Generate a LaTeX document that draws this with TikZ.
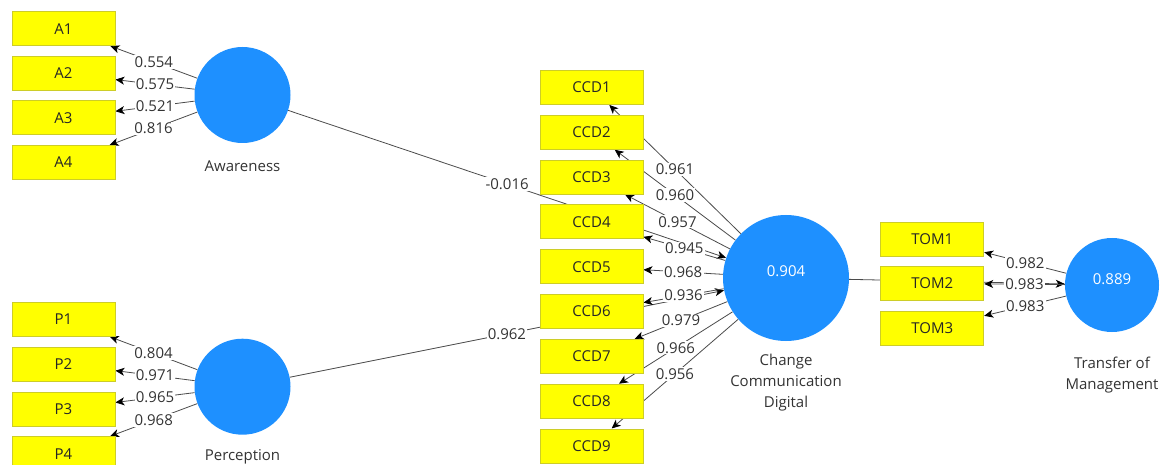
\documentclass[tikz,border=0pt]{standalone}
\usepackage{fontspec}
\setmainfont{Open Sans}
\usetikzlibrary{arrows.meta, backgrounds}

\definecolor{indyellow}{RGB}{255,255,0}
\definecolor{indborder}{RGB}{205,205,40}
\definecolor{latblue}{RGB}{30,144,255}
\definecolor{linegray}{RGB}{75,75,75}

\begin{document}
\begin{tikzpicture}[
		x=1pt, y=-1pt,
		indicator/.style={rectangle, draw=indborder, fill=indyellow, line width=0.8pt, minimum width=103pt, minimum height=34pt, inner sep=0pt, font=\fontsize{15}{18}\selectfont, text=black!85},
		latent/.style={circle, fill=latblue, minimum size=96pt, inner sep=0pt},
		latval/.style={font=\fontsize{15}{18}\selectfont, text=white},
		lvcaption/.style={font=\fontsize{15}{21}\selectfont, text=black!80, align=center},
		coef/.style={fill=white, inner sep=1.2pt, font=\fontsize{15}{18}\selectfont, text=black!80},
		loading/.style={draw=linegray, line width=0.8pt, -{Stealth[length=9pt, width=8pt, inset=2.5pt, color=black]}},
		structural/.style={loading}
		]
		
		\useasboundingbox (0,0) rectangle (1162,465);
		
		% Latent variables
		\node[latent] (aw) at (242.5,95) {};
		\node[latent] (pe) at (242.5,386.7) {};
		\node[latent, minimum size=126pt] (ccd) at (786,278) {};
		\node[latent, minimum size=94pt] (tom) at (1112,285) {};
		
		\node[latval] (ccdval) at (786,271) {0.904};
		\node[latval] (tomval) at (1112,279) {0.889};
		
		\node[lvcaption] (awname) at (242.5,166) {Awareness};
		\node[lvcaption] (pename) at (242.5,457) {Perception};
		\node[lvcaption] (ccdname) at (786,383) {Change\\Communication\\Digital};
		\node[lvcaption] (tomname) at (1112,375) {Transfer of\\Management};
		
		% Indicators of Awareness
		\node[indicator] (A1) at (63.5,28.7) {A1};
		\node[indicator] (A2) at (63.5,73.3) {A2};
		\node[indicator] (A3) at (63.5,117.9) {A3};
		\node[indicator] (A4) at (63.5,162.5) {A4};
		
		% Indicators of Perception
		\node[indicator] (P1) at (63.5,319.3) {P1};
		\node[indicator] (P2) at (63.5,364.1) {P2};
		\node[indicator] (P3) at (63.5,408.9) {P3};
		\node[indicator] (P4) at (63.5,453.7) {P4};
		
		% Indicators of Change Communication Digital
		\node[indicator] (CCD1) at (591.5,87.5) {CCD1};
		\node[indicator] (CCD2) at (591.5,132.3) {CCD2};
		\node[indicator] (CCD3) at (591.5,177.1) {CCD3};
		\node[indicator] (CCD4) at (591.5,221.9) {CCD4};
		\node[indicator] (CCD5) at (591.5,266.7) {CCD5};
		\node[indicator] (CCD6) at (591.5,311.5) {CCD6};
		\node[indicator] (CCD7) at (591.5,356.3) {CCD7};
		\node[indicator] (CCD8) at (591.5,401.1) {CCD8};
		\node[indicator] (CCD9) at (591.5,445.9) {CCD9};
		
		% Indicators of Transfer of Management
		\node[indicator] (TOM1) at (932.3,239) {TOM1};
		\node[indicator] (TOM2) at (932.3,283.5) {TOM2};
		\node[indicator] (TOM3) at (932.3,328.3) {TOM3};
		
		% All arrows run behind the boxes
		\begin{scope}[on background layer]
			% Inner model
			\draw[structural] (aw) -- node[coef] {-0.016} (ccd);
			\draw[structural] (pe) -- node[coef] {0.962} (ccd);
			\draw[structural] (ccd) -- (tom);
			
			% Outer loadings
			\draw[loading] (aw) -- node[coef] {0.554} (A1);
			\draw[loading] (aw) -- node[coef] {0.575} (A2);
			\draw[loading] (aw) -- node[coef] {0.521} (A3);
			\draw[loading] (aw) -- node[coef] {0.816} (A4);
			
			\draw[loading] (pe) -- node[coef] {0.804} (P1);
			\draw[loading] (pe) -- node[coef] {0.971} (P2);
			\draw[loading] (pe) -- node[coef] {0.965} (P3);
			\draw[loading] (pe) -- node[coef] {0.968} (P4);
			
			\draw[loading] (ccd) -- node[coef] {0.961} (CCD1);
			\draw[loading] (ccd) -- node[coef] {0.960} (CCD2);
			\draw[loading] (ccd) -- node[coef] {0.957} (CCD3);
			\draw[loading] (ccd) -- node[coef] {0.945} (CCD4);
			\draw[loading] (ccd) -- node[coef] {0.968} (CCD5);
			\draw[loading] (ccd) -- node[coef] {0.936} (CCD6);
			\draw[loading] (ccd) -- node[coef] {0.979} (CCD7);
			\draw[loading] (ccd) -- node[coef] {0.966} (CCD8);
			\draw[loading] (ccd) -- node[coef] {0.956} (CCD9);
			
			\draw[loading] (tom) -- node[coef] {0.982} (TOM1);
			\draw[loading] (tom) -- node[coef] {0.983} (TOM2);
			\draw[loading] (tom) -- node[coef] {0.983} (TOM3);
		\end{scope}
		
	\end{tikzpicture}
\end{document}
